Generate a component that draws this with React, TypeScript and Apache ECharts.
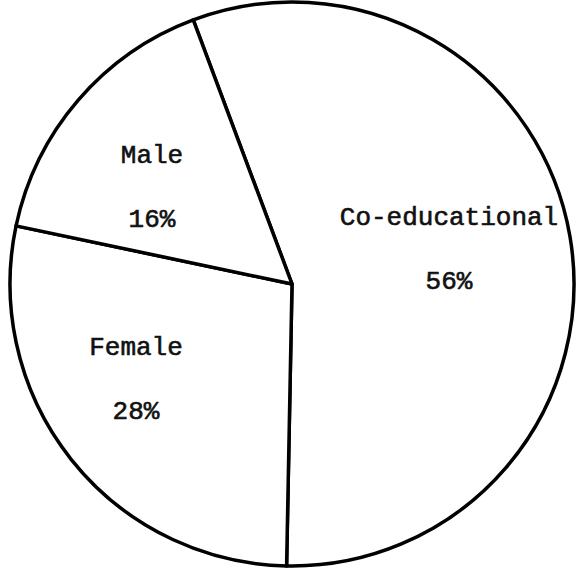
import React, { useEffect, useRef } from "react";
import * as echarts from "echarts";

const categories = ["Co-educational", "Female", "Male"];
const shares = [56, 28, 16];

// label anchor positions (pixel centres of each two-line label)
const labelAnchors: [number, number][] = [
  [449, 250],
  [136, 380],
  [152, 188],
];

export default function App() {
  const ref = useRef<HTMLDivElement>(null);
  useEffect(() => {
    if (!ref.current) return;
    const chart = echarts.init(ref.current, undefined, { renderer: "svg" });
    chart.setOption({
      animation: false,
      backgroundColor: "#ffffff",
      series: [
        {
          type: "pie",
          center: [292, 284],
          radius: [0, 282],
          startAngle: 110.5,
          clockwise: true,
          silent: true,
          data: categories.map((c, i) => ({ name: c, value: shares[i] })),
          itemStyle: {
            color: "#ffffff",
            borderColor: "#000000",
            borderWidth: 3.5,
          },
          label: {
            show: true,
            position: "inside",
            formatter: "{b}\n\n{c}%",
            fontFamily: "Liberation Mono",
            fontSize: 26,
            lineHeight: 32,
            color: "#111111",
            textBorderColor: "#111111",
            textBorderWidth: 0.6,
            align: "center",
          },
          labelLine: { show: false },
          labelLayout: (p: any) => {
            const a = labelAnchors[p.dataIndex];
            return { x: a[0], y: a[1], align: "center", verticalAlign: "middle" };
          },
        },
      ],
    });
    return () => chart.dispose();
  }, []);
  return (
    <div
      ref={ref}
      style={{ position: "fixed", left: 0, top: 0, width: 579, height: 573, background: "#fff" }}
    />
  );
}
